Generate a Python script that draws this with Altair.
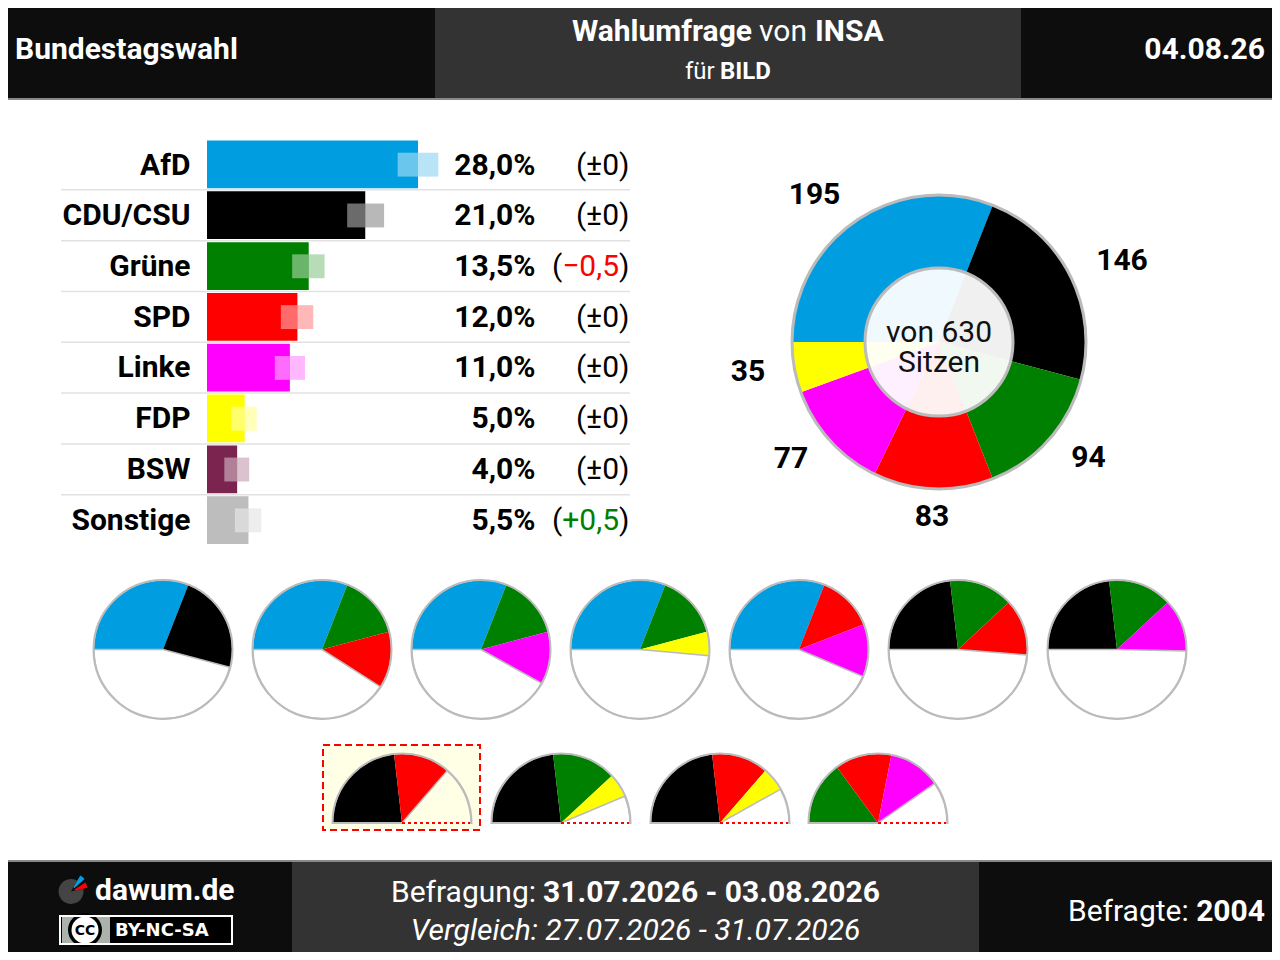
import math
import altair as alt
import pandas as pd

# ---------- values ----------
parties = ["AfD", "CDU/CSU", "Grüne", "SPD", "Linke", "FDP", "BSW", "Sonstige"]
percent = [28.0, 21.0, 13.5, 12.0, 11.0, 5.0, 4.0, 5.5]
band_low = [25.3, 18.6, 11.3, 9.8, 9.0, 3.2, 2.3, 3.7]
band_high = [30.7, 23.5, 15.6, 14.1, 13.0, 6.6, 5.6, 7.2]
percent_labels = ["28,0%", "21,0%", "13,5%", "12,0%", "11,0%", "5,0%", "4,0%", "5,5%"]
change_labels = ["±0", "±0", "−0,5", "±0", "±0", "±0", "±0", "+0,5"]
change_colors = ["#000000", "#000000", "#ff0000", "#000000", "#000000", "#000000", "#000000", "#008000"]
colors = ["#009ee0", "#000000", "#008000", "#ff0000", "#ff00ff", "#ffff00", "#7b2450", "#bdbdbd"]

seat_parties = ["AfD", "CDU/CSU", "Grüne", "SPD", "Linke", "FDP"]
seats = [195, 146, 94, 83, 77, 35]
total_seats = 630

coalitions_full = [
    ["AfD", "CDU/CSU"],
    ["AfD", "Grüne", "SPD"],
    ["AfD", "Grüne", "Linke"],
    ["AfD", "Grüne", "FDP"],
    ["AfD", "SPD", "Linke"],
    ["CDU/CSU", "Grüne", "SPD"],
    ["CDU/CSU", "Grüne", "Linke"],
]
coalitions_short = [
    ["CDU/CSU", "SPD"],
    ["CDU/CSU", "Grüne", "FDP"],
    ["CDU/CSU", "SPD", "FDP"],
    ["Grüne", "SPD", "Linke"],
]

# ---------- layout ----------
color_of = dict(zip(parties, colors))
seats_of = dict(zip(seat_parties, seats))
FONT = "Roboto"
GREY = "#bbbbbb"
DARK = "#0d0d0d"
MID = "#333333"

x_bar = alt.Scale(domain=[0, 28], range=[207, 418], nice=False, zero=False)
y_row = alt.Scale(domain=[0, 8], range=[139, 545.5], nice=False, zero=False)
theta_seats = alt.Scale(domain=[0, total_seats], range=[-math.pi / 2, 3 * math.pi / 2])

layers = []


def px(f):
    return alt.X(f, scale=None, axis=None)


def py(f):
    return alt.Y(f, scale=None, axis=None)


def boxes(rows, **mark):
    df = pd.DataFrame(rows, columns=["x0", "x1", "y0", "y1", "c"])
    return alt.Chart(df).mark_rect(**mark).encode(
        x=px("x0:Q"), x2="x1:Q", y=py("y0:Q"), y2="y1:Q",
        color=alt.Color("c:N", scale=None),
    )


def text(rows, size, weight="normal", align="left", font=FONT, style="normal"):
    df = pd.DataFrame(rows, columns=["x", "y", "t", "c"])
    return alt.Chart(df).mark_text(
        font=font, fontSize=size, fontWeight=weight, align=align,
        baseline="alphabetic", fontStyle=style,
    ).encode(x=px("x:Q"), y=py("y:Q"), text="t:N", color=alt.Color("c:N", scale=None))


def arcs(rows, radius, inner=0, scale=theta_seats, **mark):
    df = pd.DataFrame(rows, columns=["cx", "cy", "a", "b", "c"])
    return alt.Chart(df).mark_arc(radius=radius, radius2=inner, **mark).encode(
        x=px("cx:Q"), y=py("cy:Q"),
        theta=alt.Theta("a:Q", scale=scale), theta2="b:Q",
        color=alt.Color("c:N", scale=None),
    )


def dots(rows, radius, **mark):
    return arcs([(x, y, 0, total_seats, c) for x, y, c in rows], radius, **mark)


W = "#ffffff"
# header / footer panels
layers.append(boxes([
    (0, 1280, 0, 98, DARK), (435, 1021, 0, 98, MID), (0, 1280, 98, 100, "#888888"),
    (0, 1280, 860, 862, "#888888"), (0, 1280, 862, 960, DARK), (292, 979, 862, 960, MID),
]))
layers.append(text([(15, 59, "Bundestagswahl", W)], 30, "bold"))
layers.append(text([(572, 41, "Wahlumfrage", W), (815, 41, "INSA", W)], 30, "bold"))
layers.append(text([(759, 41, "von", W)], 30))
layers.append(text([(685, 79, "für", W)], 24))
layers.append(text([(720, 79, "BILD", W)], 24, "bold"))
layers.append(text([(1265, 59, "04.08.26", W)], 30, "bold", "right"))

# bar table
n = len(parties)
rows = pd.DataFrame({
    "party": parties, "pct": percent, "low": band_low, "high": band_high, "c": colors,
    "top": [i + 0.03 for i in range(n)], "bot": [i + 0.97 for i in range(n)],
    "gtop": [i + 0.27 for i in range(n)], "gbot": [i + 0.74 for i in range(n)],
    "zero": [0.0] * n,
})
layers.append(
    alt.Chart(pd.DataFrame({"r": list(range(1, n))})).mark_rule(color="#e2e2e2", strokeWidth=1.5).encode(
        x=alt.value(61), x2=alt.value(630), y=alt.Y("r:Q", scale=y_row, axis=None)
    )
)
cscale = alt.Color("c:N", scale=None)
xb = lambda f: alt.X(f, scale=x_bar, axis=None)
yb = lambda f: alt.Y(f, scale=y_row, axis=None)
layers.append(alt.Chart(rows).mark_rect().encode(x=xb("zero:Q"), x2="pct:Q", y=yb("top:Q"), y2="bot:Q", color=cscale))
layers.append(alt.Chart(rows).mark_rect(color="#ffffff", opacity=0.42).encode(x=xb("low:Q"), x2="pct:Q", y=yb("gtop:Q"), y2="gbot:Q"))
layers.append(alt.Chart(rows).mark_rect(opacity=0.28).encode(x=xb("pct:Q"), x2="high:Q", y=yb("gtop:Q"), y2="gbot:Q", color=cscale))

base = [174.6 + 50.7 * i for i in range(n)]
K = "#000000"
layers.append(text([(190.5, y, t, K) for y, t in zip(base, parties)], 30, "bold", "right"))
layers.append(text([(535.5, y, t, K) for y, t in zip(base, percent_labels)], 30, "bold", "right"))
layers.append(text([(629.5, y, ")", K) for y in base], 30, "normal", "right"))
layers.append(text([(619, y, t, c) for y, t, c in zip(base, change_labels, change_colors)], 30, "normal", "right"))
layers.append(text([(576 if t == "±0" else 552, y, "(", K) for y, t in zip(base, change_labels)], 30))

# parliament donut
CX, CY = 939, 342
seat_rows, acc = [], 0
for p, s in zip(seat_parties, seats):
    seat_rows.append((CX, CY, acc, acc + s, color_of[p]))
    acc += s
layers.append(arcs(seat_rows, 147))
layers.append(dots([(CX, CY, GREY)], 147, fillOpacity=0, stroke=GREY, strokeWidth=3))
layers.append(dots([(CX, CY, "#ffffff")], 74, fillOpacity=0.94, stroke=GREY, strokeWidth=3))
layers.append(text([(CX, 342, "von 630", "#111111"), (CX, 372, "Sitzen", "#111111")], 30, "normal", "center"))
layers.append(text([
    (814.5, 204, str(seats[0]), K), (1122, 270, str(seats[1]), K), (1088.5, 467, str(seats[2]), K),
    (932, 526, str(seats[3]), K), (791, 468, str(seats[4]), K), (748, 381, str(seats[5]), K),
], 30, "bold", "center"))

# coalition pies
pie_x_full = [163 + 159 * i for i in range(len(coalitions_full))]
pie_x_short = [402, 561, 720, 878]
PY1, PY2, PR = 649.5, 823, 69
layers.append(boxes([(323, 480, 745, 830, "#ffffe6")], stroke="#ff0000", strokeWidth=2, strokeDash=[7, 4]))


def pie_rows(x, y, members, end):
    out, acc = [], 0
    for p in members:
        out.append((x, y, acc, acc + seats_of[p], color_of[p]))
        acc += seats_of[p]
    return out, (x, y, acc, end)


col_rows, rest_full, rest_short = [], [], []
for x, m in zip(pie_x_full, coalitions_full):
    a, b = pie_rows(x, PY1, m, total_seats)
    col_rows += a
    rest_full.append(b + (W,))
for x, m in zip(pie_x_short, coalitions_short):
    a, b = pie_rows(x, PY2, m, total_seats / 2)
    col_rows += a
    # the highlighted pie keeps the pale panel colour in its empty part
    rest_short.append(b + ("#ffffe6" if x == pie_x_short[0] else W,))
layers.append(arcs(col_rows, PR))
layers.append(arcs(rest_full + rest_short, PR, stroke=GREY, strokeWidth=1.5))
layers.append(arcs(
    [(x, PY1, 0, total_seats, GREY) for x in pie_x_full] +
    [(x, PY2, 0, total_seats / 2, GREY) for x in pie_x_short],
    PR + 0.5, fillOpacity=0, stroke=GREY, strokeWidth=2))
line_rows = pd.DataFrame({"x": pie_x_short, "x1": [x + PR - 1 for x in pie_x_short], "y": [PY2] * 4})
layers.append(alt.Chart(line_rows).mark_rule(color="#ffffff", strokeWidth=2).encode(x=px("x:Q"), x2="x1:Q", y=py("y:Q")))
layers.append(alt.Chart(line_rows).mark_rule(color="#ff0000", strokeWidth=2.2, strokeDash=[3, 3]).encode(x=px("x:Q"), x2="x1:Q", y=py("y:Q")))

# footer logo
deg = alt.Scale(domain=[0, 360], range=[0, 2 * math.pi])
layers.append(arcs([(71, 891.5, 77, 390, "#444444")], 12.5, scale=deg))
layers.append(arcs([(71, 891.5, 30, 47, "#009ee0")], 18.5, 5, scale=deg))
layers.append(arcs([(71, 891.5, 58, 77, "#ff0000")], 17, 4, scale=deg))
layers.append(text([(95, 900, "dawum.de", W)], 30, "bold"))
layers.append(boxes([(60, 232, 916, 944, "#000000"), (62, 110, 917, 943, "#aab2ab")]))
layers.append(dots([(85, 930, "#000000")], 17))
layers.append(dots([(85, 930, "#ffffff")], 13.5))
layers.append(boxes([(60, 232, 916, 944, "#000000")], fillOpacity=0, stroke=W, strokeWidth=2))
layers.append(text([(85, 935, "CC", "#000000")], 14, "bold", "center", "DejaVu Sans"))
layers.append(text([(115, 936, "BY-NC-SA", W)], 18, "bold", "left", "DejaVu Sans"))

# footer text
layers.append(text([(391, 902, "Befragung:", W)], 30))
layers.append(text([(543, 902, "31.07.2026 - 03.08.2026", W)], 30, "bold"))
layers.append(text([(635.5, 940, "Vergleich: 27.07.2026 - 31.07.2026", W)], 30, "normal", "center", FONT, "italic"))
layers.append(text([(1068, 921, "Befragte:", W)], 30))
layers.append(text([(1265, 921, "2004", W)], 30, "bold", "right"))

# the page keeps an 8px margin: shift the drawing up-left so that it lands on true window pixels
chart = alt.layer(*layers).resolve_scale(
    x="independent", y="independent", color="independent", theta="independent"
).properties(
    width=1272, height=952,
    padding={"left": -8, "top": -8, "right": 0, "bottom": 0},
    autosize=alt.AutoSizeParams(type="none"),
    background="#ffffff",
).configure_view(stroke=None)

chart.save("out.html", embed_options={"renderer": "svg", "actions": False})
